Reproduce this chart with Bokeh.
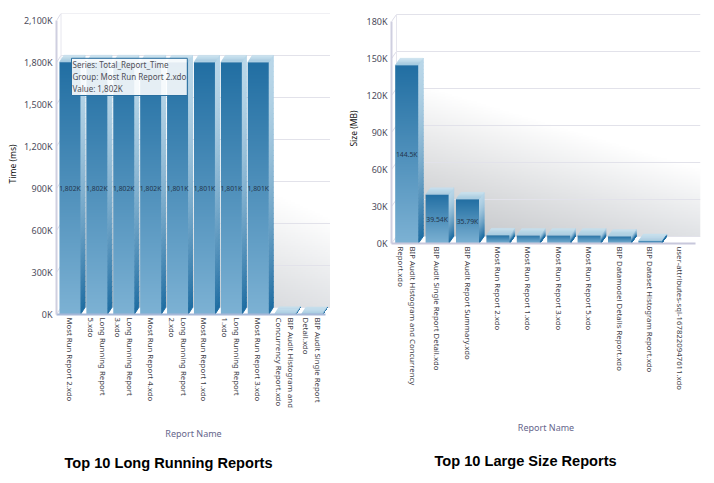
import numpy as np
from bokeh.embed import file_html
from bokeh.resources import INLINE
from bokeh.layouts import row
from bokeh.models import FixedTicker, Label, Range1d, ColumnDataSource, Title
from bokeh.plotting import figure
from bokeh.core.properties import value

time_names = ["Most Run Report 2.xdo", "Long Running Report\n5.xdo", "Long Running Report\n3.xdo",
              "Most Run Report 4.xdo", "Long Running Report\n2.xdo", "Most Run Report 1.xdo",
              "Long Running Report\n1.xdo", "Most Run Report 3.xdo",
              "BIP Audit Histogram and\nConcurrency Report.xdo", "BIP Audit Single Report\nDetail.xdo"]
time_values = [1802, 1802, 1802, 1802, 1801, 1801, 1801, 1801, 5, 4]
time_labels = ["1,802K", "1,802K", "1,802K", "1,802K", "1,801K", "1,801K", "1,801K", "1,801K", "", ""]
time_ticks = [0, 300, 600, 900, 1200, 1500, 1800, 2100]
time_tick_labels = ["0K", "300K", "600K", "900K", "1,200K", "1,500K", "1,800K", "2,100K"]

size_names = ["BIP Audit Histogram and Concurrency\nReport.xdo", "BIP Audit Single Report Detail.xdo",
              "BIP Audit Report Summary.xdo", "Most Run Report 2.xdo", "Most Run Report 1.xdo",
              "Most Run Report 3.xdo", "Most Run Report 5.xdo", "BIP Datamodel Details Report.xdo",
              "BIP Dataset Histogram Report.xdo", "user-attributes-sql-1678220947611.xdo"]
size_values = [144.5, 39.54, 35.79, 6.6, 6.4, 6.4, 6.4, 5.7, 2.0, 0]
size_labels = ["144.5K", "39.54K", "35.79K", "", "", "", "", "", "", ""]
size_ticks = [0, 30, 60, 90, 120, 150, 180]
size_tick_labels = ["0K", "30K", "60K", "90K", "120K", "150K", "180K"]

FONT = "Noto Sans"


def mix(a, b, t):
    a = np.array(a, float)
    b = np.array(b, float)
    c = a + (b - a) * t
    return "#%02x%02x%02x" % tuple(int(round(v)) for v in c)


FRONT_TOP, FRONT_BOT = np.array((0x22, 0x6f, 0xa3)), np.array((0x7d, 0xb2, 0xd4))
SIDE_TOP, SIDE_BOT = (0xb8, 0xd6, 0xe8), (0x20, 0x6e, 0xa3)
TOP_FRONT, TOP_BACK = (0xa4, 0xca, 0xe0), (0xc6, 0xdf, 0xec)


def vertical_gradient(rows):
    s = np.linspace(1, 0, rows)[:, None, None]       # row 0 is the bottom of the bar
    rgb = FRONT_TOP[None, None, :] * (1 - s) + FRONT_BOT[None, None, :] * s
    out = np.zeros((rows, 1, 4), dtype=np.uint8)
    out[..., :3] = rgb
    out[..., 3] = 255
    return out.view(np.uint32).reshape(rows, 1)


def chart(names, values, labels, ticks, tick_labels, ytitle, title, width, frame_w, frame_h, left, right,
          bottom, x_scale, y_scale, bar_w, dx_px, dy_px, axis_color, floor_color, xstand, ystand,
          title_standoff, title_offset):
    dx = dx_px / x_scale
    dy = dy_px / y_scale
    p = figure(width=width, height=483, output_backend="svg", toolbar_location=None,
               x_range=Range1d(0, frame_w / x_scale), y_range=Range1d(0, frame_h / y_scale),
               min_border_left=left, min_border_right=right, min_border_top=13, min_border_bottom=bottom)
    p.frame_align = False
    p.outline_line_color = None
    p.grid.visible = False
    n = len(values)
    ymax = ticks[-1]

    # back wall shading
    h, w = 160, 160
    u = np.linspace(0, 1, w)[None, :]
    v = np.linspace(1, 0, h)[:, None]          # v is measured from the top of the wall
    v0 = 0.29 + 0.41 * u
    t = np.clip((v - v0) / (1 - v0), 0, 1)
    dark = 190 + 35 * u
    g = 255 - (255 - dark) * t
    img = np.zeros((h, w, 4), dtype=np.uint8)
    img[..., 0] = g
    img[..., 1] = g + 2 * t
    img[..., 2] = g + 5 * t
    img[..., 3] = 255
    p.image_rgba(image=[img.view(np.uint32).reshape(h, w)], x=dx, y=dy, dw=n, dh=ymax)

    # gridlines on the wall and the left side
    p.segment(x0=[dx] * len(ticks), x1=[n + dx] * len(ticks), y0=[k + dy for k in ticks],
              y1=[k + dy for k in ticks], line_color="#e2e2ea", line_width=1)
    p.segment(x0=[0] * len(ticks), x1=[dx] * len(ticks), y0=ticks, y1=[k + dy for k in ticks],
              line_color="#dcdce8", line_width=1)
    p.line([dx, dx], [dy, ymax + dy], line_color="#e6e6ee", line_width=1)

    # bars
    half = bar_w / 2
    strips = 48
    grad = vertical_gradient(256)
    for i, val in enumerate(values):
        if val <= 0:
            continue
        c = i + 0.5
        l, r = c - half, c + half
        edges = np.linspace(val, 0, strips + 1)
        scols = [mix(SIDE_TOP, SIDE_BOT, (k / (strips - 1)) ** 1.6) for k in range(strips)]
        p.patches(xs=[[r, r + dx, r + dx, r] for _ in range(strips)],
                  ys=[[a, a + dy, b + dy, b] for a, b in zip(edges[:-1], edges[1:])],
                  fill_color=scols, line_color=scols, line_width=1)
        tn = 6
        tcols = [mix(TOP_FRONT, TOP_BACK, k / (tn - 1)) for k in range(tn)]
        fr = np.linspace(0, 1, tn + 1)
        p.patches(xs=[[l + dx * a, r + dx * a, r + dx * b, l + dx * b] for a, b in zip(fr[:-1], fr[1:])],
                  ys=[[val + dy * a, val + dy * a, val + dy * b, val + dy * b] for a, b in zip(fr[:-1], fr[1:])],
                  fill_color=tcols, line_color=tcols, line_width=0.5)
        p.image_rgba(image=[grad], x=l, y=0, dw=bar_w, dh=val)

    idx = [i for i, s in enumerate(labels) if s]
    src = ColumnDataSource(dict(x=[i + 0.5 for i in idx], y=[values[i] / 2 for i in idx],
                                t=[labels[i] for i in idx]))
    p.text(x="x", y="y", text="t", source=src, text_align="center", text_baseline="middle",
           text_font=value(FONT), text_font_size="6.8px", text_color="#24364c")

    xa = p.xaxis[0]
    xa.ticker = FixedTicker(ticks=[i + 0.5 for i in range(n)])
    xa.major_label_overrides = {i + 0.5: s for i, s in enumerate(names)}
    xa.major_label_orientation = -np.pi / 2
    xa.major_label_text_font = FONT
    xa.major_label_text_font_size = "7.8px"
    xa.major_label_text_color = "#3c3c46"
    xa.major_label_standoff = 3
    xa.major_tick_line_color = None
    xa.minor_tick_line_color = None
    xa.major_tick_out = 0
    xa.major_tick_in = 0
    xa.minor_tick_out = 0
    xa.axis_line_color = floor_color
    xa.axis_line_width = 2
    xa.bounds = (0, n)
    xa.axis_label = "Report Name"
    xa.axis_label_text_font = FONT
    xa.axis_label_text_font_size = "9px"
    xa.axis_label_text_font_style = "normal"
    xa.axis_label_text_color = "#66668c"
    xa.axis_label_standoff = xstand

    ya = p.yaxis[0]
    ya.ticker = FixedTicker(ticks=ticks)
    ya.major_label_overrides = dict(zip(ticks, tick_labels))
    ya.major_label_text_font = FONT
    ya.major_label_text_font_size = "9px"
    ya.major_label_text_color = "#4c4c5c"
    ya.major_label_standoff = 4
    ya.major_tick_line_color = None
    ya.minor_tick_line_color = None
    ya.major_tick_out = 0
    ya.major_tick_in = 0
    ya.minor_tick_out = 0
    ya.axis_line_color = axis_color
    ya.axis_line_width = 2
    ya.bounds = (0, ymax)
    ya.axis_label = ytitle
    ya.axis_label_text_font = FONT
    ya.axis_label_text_font_size = "8.5px"
    ya.axis_label_text_font_style = "normal"
    ya.axis_label_text_color = "#111111"
    ya.axis_label_standoff = ystand

    p.add_layout(Title(text=title, align="left", vertical_align="bottom", offset=title_offset,
                       standoff=title_standoff,
                       text_font="Liberation Sans", text_font_size="14.6px", text_font_style="bold",
                       text_color="#000000"), "below")
    return p


left_chart = chart(time_names, time_values, time_labels, time_ticks, time_tick_labels, "Time (ms)",
                   "Top 10 Long Running Reports",
                   345, 274, 301, 56, 15, 169, 26.9, 0.14, 0.78, 4.5, 7, "#cfcfe0", "#a6b8d8", 16, 3, 21, 8)
right_chart = chart(size_names, size_values, size_labels, size_ticks, size_tick_labels, "Size (MB)",
                    "Top 10 Large Size Reports",
                    369, 309, 230, 46, 14, 240, 30.4, 222 / 180, 0.757, 5, 7, "#cfcfe0", "#c8c8dc", 28, 4, 27, 43)

left_chart.add_layout(Label(x=15, y=219, x_units="screen", y_units="screen",
                            text="Series: Total_Report_Time\nGroup: Most Run Report 2.xdo\nValue: 1,802K",
                            text_font=FONT, text_font_size="8px", text_color="#505058", text_line_height=1.1,
                            background_fill_color="#ffffff", background_fill_alpha=0.88,
                            border_line_color="#2a6f9f", border_line_width=1, padding=1))

open("out.html", "w").write(file_html(row(left_chart, right_chart, spacing=0), INLINE))
